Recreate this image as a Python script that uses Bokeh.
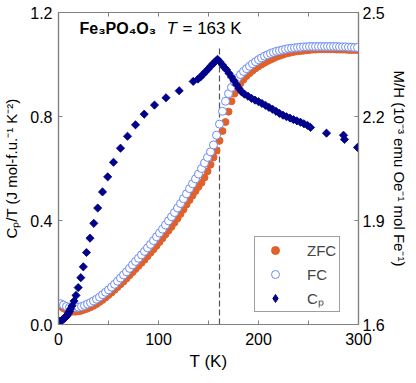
from bokeh.plotting import figure
from bokeh.models import Range1d, LinearAxis, FixedTicker, Label, Legend, LegendItem
from bokeh.embed import file_html
from bokeh.resources import INLINE

# ---------------- data ----------------
# Magnetisation M/H (10^-3 emu Oe^-1 mol Fe^-1), temperatures in K
m_T = [2, 5, 8, 11, 14, 17, 20, 23, 26, 29,
       32, 35, 38, 41, 44, 47, 50, 53, 56, 59,
       62, 65, 68, 71, 74, 77, 80, 83, 86, 89,
       92, 95, 98, 101, 104, 107, 110, 113, 116, 119,
       122, 125, 128, 131, 134, 137, 140, 143, 146, 149,
       152, 155, 158, 161, 164, 167, 170, 173, 176, 179,
       182, 185, 188, 191, 194, 197, 200, 203, 206, 209,
       212, 215, 218, 221, 224, 227, 230, 233, 236, 239,
       242, 245, 248, 251, 254, 257, 260, 263, 266, 269,
       272, 275, 278, 281, 284, 287, 290, 293, 296, 299]

zfc_MH = [1.652, 1.647, 1.642, 1.639, 1.637, 1.637, 1.638, 1.640, 1.643, 1.646,
          1.650, 1.654, 1.659, 1.665, 1.671, 1.678, 1.685, 1.692, 1.700, 1.708,
          1.716, 1.724, 1.733, 1.742, 1.751, 1.760, 1.769, 1.778, 1.787, 1.797,
          1.807, 1.817, 1.827, 1.838, 1.849, 1.860, 1.871, 1.882, 1.894, 1.906,
          1.919, 1.932, 1.946, 1.959, 1.972, 1.985, 1.997, 2.009, 2.024, 2.042,
          2.061, 2.082, 2.102, 2.130, 2.158, 2.184, 2.214, 2.244, 2.266, 2.283,
          2.296, 2.307, 2.317, 2.325, 2.332, 2.339, 2.345, 2.350, 2.355, 2.360,
          2.364, 2.368, 2.372, 2.375, 2.378, 2.381, 2.383, 2.385, 2.387, 2.388,
          2.389, 2.390, 2.391, 2.392, 2.393, 2.393, 2.394, 2.394, 2.394, 2.394,
          2.394, 2.394, 2.393, 2.393, 2.393, 2.393, 2.392, 2.392, 2.392, 2.392]

fc_MH = [1.660, 1.656, 1.652, 1.650, 1.649, 1.649, 1.650, 1.652, 1.655, 1.659,
         1.663, 1.668, 1.673, 1.679, 1.686, 1.693, 1.700, 1.708, 1.716, 1.725,
         1.734, 1.743, 1.752, 1.762, 1.772, 1.782, 1.791, 1.801, 1.811, 1.821,
         1.831, 1.842, 1.853, 1.864, 1.875, 1.887, 1.899, 1.911, 1.923, 1.936,
         1.949, 1.963, 1.977, 1.992, 2.006, 2.020, 2.034, 2.050, 2.066, 2.082,
         2.098, 2.118, 2.146, 2.178, 2.215, 2.244, 2.266, 2.284, 2.299, 2.311,
         2.321, 2.330, 2.338, 2.345, 2.352, 2.358, 2.364, 2.369, 2.374, 2.378,
         2.382, 2.385, 2.388, 2.390, 2.392, 2.394, 2.396, 2.397, 2.398, 2.399,
         2.400, 2.401, 2.401, 2.402, 2.402, 2.402, 2.402, 2.402, 2.402, 2.402,
         2.402, 2.402, 2.402, 2.401, 2.401, 2.401, 2.400, 2.400, 2.399, 2.399]

# Specific heat Cp/T (J mol-f.u.^-1 K^-2)
cp_T = [1, 2, 3, 4, 5, 6, 7, 8, 9, 10, 11, 12,
        13.5, 15.5, 17.5, 19.7, 22.3, 24.8, 28, 31.5, 35.3, 39.2, 44, 49.2, 55,
        62, 69, 77, 85.7, 96, 107.5, 120.7, 134.7,
        139.5, 142, 144.5, 147, 149.5, 152, 154.5, 157, 159,
        161.5, 164, 166, 168, 170.5, 173, 175.5, 178, 180.5, 183,
        186, 189.5, 193, 196.5, 200, 203.5, 207, 210.5, 214, 217.5,
        221, 224.5, 228, 231.5, 235, 238.5, 242, 245.5, 249, 252,
        268, 285, 286, 299]
cp_val = [0.012, 0.013, 0.015, 0.018, 0.021, 0.024, 0.028, 0.032, 0.037, 0.044, 0.051, 0.060,
          0.072, 0.090, 0.112, 0.142, 0.180, 0.222, 0.277, 0.332, 0.389, 0.448, 0.510, 0.568, 0.624,
          0.678, 0.724, 0.768, 0.809, 0.844, 0.872, 0.899, 0.935,
          0.944, 0.952, 0.962, 0.972, 0.982, 0.993, 1.003, 1.012, 1.020,
          1.010, 0.998, 0.988, 0.980, 0.966, 0.952, 0.938, 0.922, 0.908, 0.895,
          0.886, 0.878, 0.870, 0.863, 0.857, 0.850, 0.843, 0.835, 0.828, 0.820,
          0.812, 0.805, 0.799, 0.794, 0.788, 0.783, 0.778, 0.772, 0.766, 0.758,
          0.736, 0.728, 0.712, 0.681]

# transition marker
tn_T = 161
tn_top = 1.065

x_major = [0, 100, 200, 300]
x_minor = [50, 150, 250]
x_all = [0, 50, 100, 150, 200, 250, 300]
left_ticks = [0.0, 0.4, 0.8, 1.2]
left_tick_labels = {0.0: "0.0", 0.4: "0.4", 0.8: "0.8", 1.2: "1.2"}
right_ticks = [1.6, 1.9, 2.2, 2.5]
right_tick_labels = {1.6: "1.6", 1.9: "1.9", 2.2: "2.2", 2.5: "2.5"}

# ---------------- style ----------------
FONT = "Liberation Sans"
GRAY = "#808080"
ORANGE = "#E2602A"
BLUE = "#6C8CF2"
NAVY = "#00008B"

p = figure(frame_width=300, frame_height=312, output_backend="svg", toolbar_location=None,
           x_range=Range1d(0, 300), y_range=Range1d(0, 1.2),
           min_border_left=54, min_border_right=44, min_border_top=12, min_border_bottom=40)
p.extra_y_ranges = {"mh": Range1d(1.6, 2.5)}
p.grid.visible = False
p.outline_line_color = GRAY
p.outline_line_width = 1.2
p.background_fill_color = "white"
p.border_fill_color = "white"


def style_axis(ax):
    ax.axis_line_color = GRAY
    ax.axis_line_width = 1.2
    ax.major_tick_line_color = GRAY
    ax.major_tick_line_width = 1
    ax.major_tick_in = 4
    ax.major_tick_out = 0
    ax.minor_tick_line_color = GRAY
    ax.minor_tick_line_width = 1
    ax.minor_tick_in = 4
    ax.minor_tick_out = 0
    ax.major_label_text_font = FONT
    ax.major_label_text_font_size = "16px"
    ax.major_label_text_color = "black"
    ax.axis_label_text_font = FONT
    ax.axis_label_text_font_style = "normal"
    ax.axis_label_text_color = "black"
    ax.axis_label_text_line_height = 1.0


xa = p.xaxis[0]
style_axis(xa)
xa.ticker = FixedTicker(ticks=x_major, minor_ticks=x_minor)
xa.major_label_standoff = 8
xa.axis_label = "T (K)"
xa.axis_label_text_font_size = "17px"
xa.axis_label_standoff = 4

ya = p.yaxis[0]
style_axis(ya)
ya.ticker = FixedTicker(ticks=left_ticks, minor_ticks=[])
ya.major_label_overrides = left_tick_labels
ya.major_label_standoff = 6
ya.axis_label = "Cₚ/T (J mol-f.u.⁻¹ K⁻²)"
ya.axis_label_text_font_size = "15px"
ya.axis_label_standoff = 7

ra = LinearAxis(y_range_name="mh")
style_axis(ra)
ra.ticker = FixedTicker(ticks=right_ticks, minor_ticks=[])
ra.major_label_overrides = right_tick_labels
ra.major_label_standoff = 4
ra.axis_label = "M/H (10⁻³ emu Oe⁻¹ mol Fe⁻¹)"
ra.axis_label_text_font_size = "15px"
ra.axis_label_standoff = 3
p.add_layout(ra, "right")

ta = LinearAxis()
style_axis(ta)
ta.ticker = FixedTicker(ticks=[], minor_ticks=x_all)
ta.major_label_standoff = 0
p.add_layout(ta, "above")

# dashed transition line
p.segment(x0=[tn_T], y0=[0], x1=[tn_T], y1=[tn_top], line_color="#555555",
          line_width=1.2, line_dash="6 3")

r_zfc = p.scatter(m_T, zfc_MH, marker="circle", size=7, fill_color=ORANGE,
                  line_color=ORANGE, y_range_name="mh")
r_fc = p.scatter(m_T, fc_MH, marker="circle", size=8, fill_color="white",
                 line_color=BLUE, line_width=1, y_range_name="mh")
# Cp: a diamond glyph (used as the legend key), covered by rotated squares
r_cp_key = p.scatter(cp_T, cp_val, marker="diamond", size=6.3,
                     fill_color=NAVY, line_color=NAVY, line_width=1)
r_cp = p.scatter(cp_T, cp_val, marker="square", angle=0.785398, size=5.8,
                 fill_color=NAVY, line_color=NAVY, line_width=0.8)

# text annotations
p.add_layout(Label(x=21, y=1.138, text="Fe₃PO₄O₃", text_font=FONT, text_font_size="16px",
                   text_font_style="bold", text_baseline="middle", text_color="black"))
p.add_layout(Label(x=108, y=1.138, text="T", text_font=FONT, text_font_size="17px",
                   text_font_style="italic", text_baseline="middle", text_color="black"))
p.add_layout(Label(x=124, y=1.138, text="=  163 K", text_font=FONT, text_font_size="17px",
                   text_baseline="middle", text_color="black"))

legend = Legend(items=[LegendItem(label="ZFC", renderers=[r_zfc]),
                       LegendItem(label="FC", renderers=[r_fc]),
                       LegendItem(label="Cₚ", renderers=[r_cp_key])],
                location=(196, 12), margin=0, padding=3, spacing=4,
                label_height=20, glyph_height=20, glyph_width=34, label_standoff=15,
                label_text_font=FONT, label_text_font_size="15px",
                border_line_color="#404040", border_line_width=1,
                background_fill_alpha=1, background_fill_color="white")
p.add_layout(legend)

open("out.html", "w").write(file_html(p, INLINE))
